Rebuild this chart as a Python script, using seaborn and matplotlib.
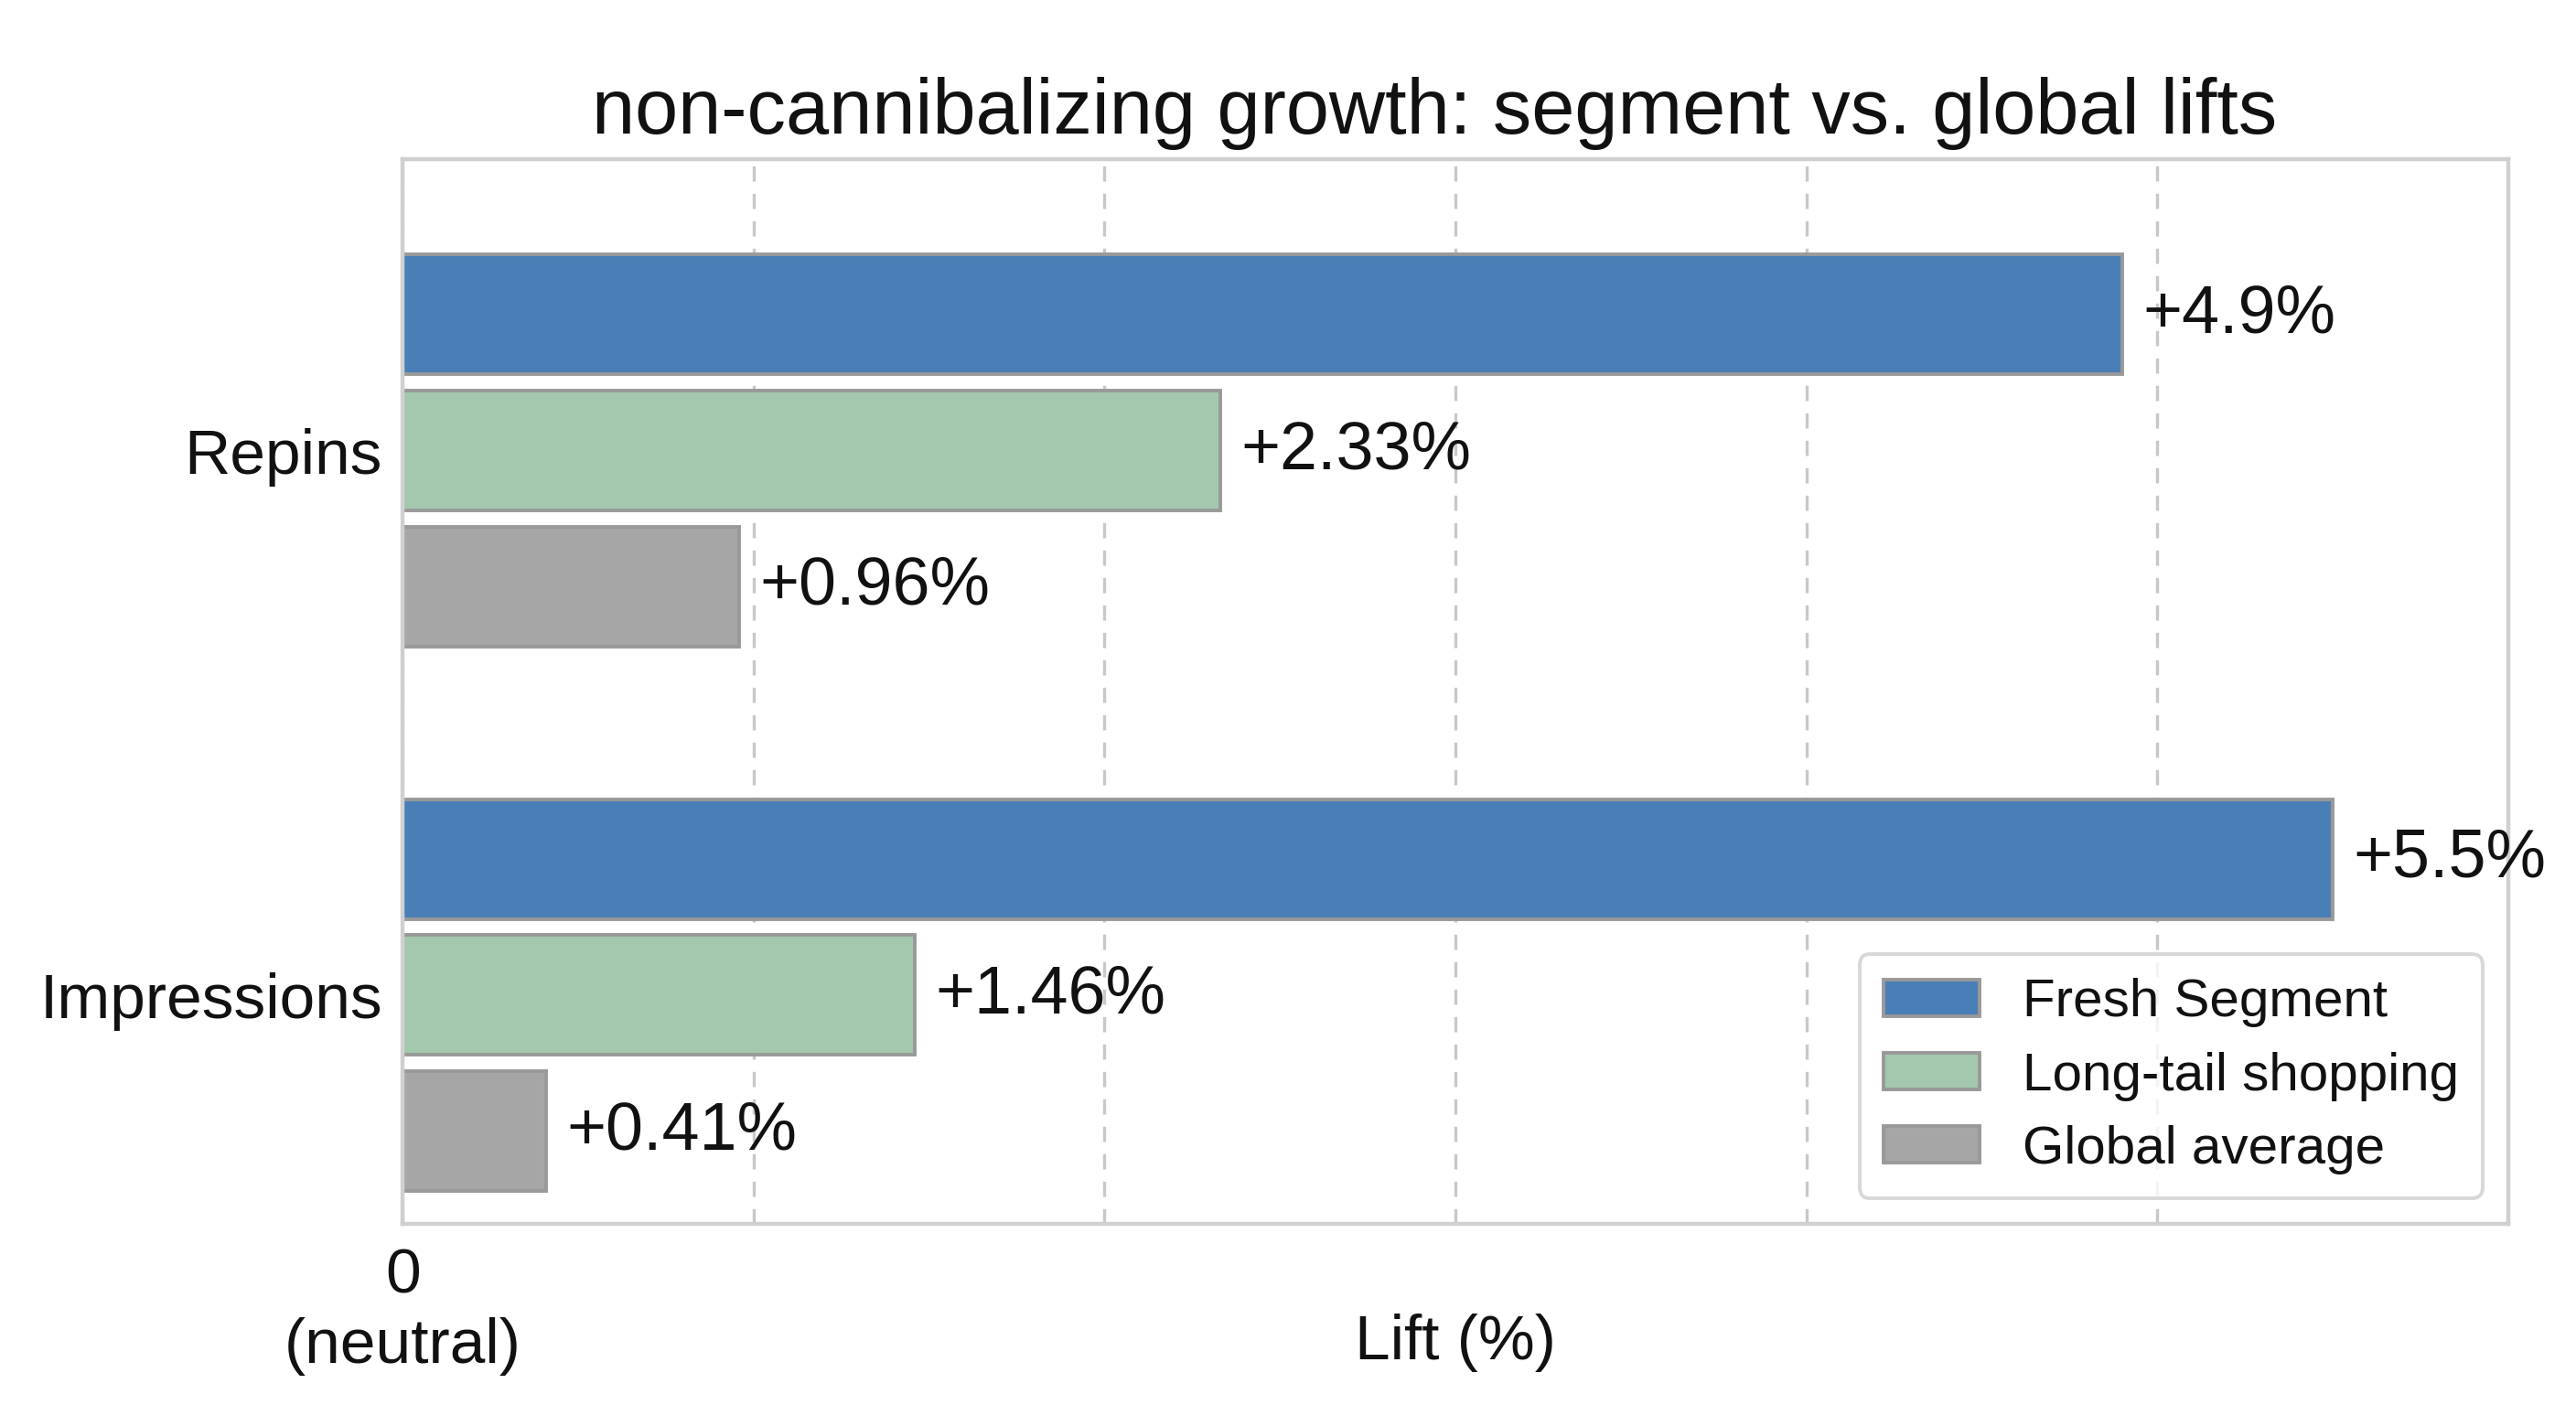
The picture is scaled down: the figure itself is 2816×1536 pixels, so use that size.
import matplotlib
matplotlib.use("Agg")
import matplotlib.pyplot as plt
import seaborn as sns
import pandas as pd

metrics = ["Repins", "Impressions"]
segments = ["Fresh Segment", "Long-tail shopping", "Global average"]
fresh_segment = [4.9, 5.5]
long_tail = [2.33, 1.46]
global_avg = [0.96, 0.41]
palette = ["#4a7eb6", "#a3c8ad", "#a6a6a6"]

rows = []
for seg, vals in zip(segments, [fresh_segment, long_tail, global_avg]):
    for m, v in zip(metrics, vals):
        rows.append({"metric": m, "segment": seg, "lift": v})
df = pd.DataFrame(rows)

sns.set_theme(style="whitegrid")
plt.rcParams["font.family"] = ["Liberation Sans", "DejaVu Sans"]

fig = plt.figure(figsize=(14.08, 7.68), dpi=200)
ax = fig.add_axes([0.1563, 0.1289, 0.8174, 0.7578])

sns.barplot(data=df, y="metric", x="lift", hue="segment", order=metrics,
            hue_order=segments, palette=palette, orient="h", width=0.75,
            gap=0.12, edgecolor="#999999", linewidth=1.4, saturation=1,
            ax=ax)

for cont in ax.containers:
    vals = cont.datavalues
    ax.bar_label(cont, labels=[f"+{v:g}%" for v in vals], padding=8,
                 fontsize=26.5, color="#111111")

ax.set_xlim(0, 6)
ax.set_ylim(1.42, -0.535)
ax.set_xticks([0, 1, 2, 3, 4, 5])
ax.set_xticklabels(["0\n(neutral)", "", "", "", "", ""], fontsize=25,
                   linespacing=1.25, color="#111111")
ax.tick_params(axis="x", length=0, pad=9)
ax.tick_params(axis="y", length=0, pad=8, labelsize=25, labelcolor="#111111")
ax.set_ylabel("")
ax.set_xlabel("Lift (%)", fontsize=25, color="#111111")
ax.xaxis.set_label_coords(0.5, -0.127)
ax.xaxis.label.set_verticalalignment("baseline")

ax.grid(axis="x", linestyle=(0, (5, 4)), color="#c8c8c8", linewidth=1.2)
ax.grid(axis="y", visible=False)
for s in ax.spines.values():
    s.set_color("#d0d0d0")
    s.set_linewidth(1.6)

ax.set_title("non-cannibalizing growth: segment vs. global lifts",
             fontsize=30.5, pad=10, color="#111111", x=0.49)

leg = ax.legend(loc="lower right", fontsize=21, frameon=True,
                bbox_to_anchor=(1.0, 0.0), borderaxespad=0.48,
                handlelength=1.8, handleheight=0.68, labelspacing=0.45,
                borderpad=0.45, handletextpad=0.8, fancybox=True)
leg.get_frame().set_edgecolor("#cfcfcf")
leg.get_frame().set_linewidth(1.4)
for t in leg.get_texts():
    t.set_color("#111111")

fig.savefig("out.png", dpi=200, facecolor="white")
